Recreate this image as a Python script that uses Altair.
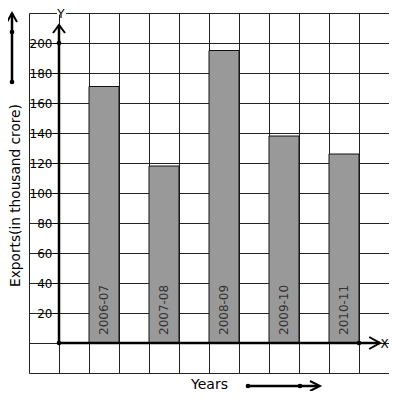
import altair as alt
import pandas as pd

years = ["2006-07", "2007-08", "2008-09", "2009-10", "2010-11"]
exports = [171, 118, 195, 138, 126]
y_ticks = [20, 40, 60, 80, 100, 120, 140, 160, 180, 200]
grid_y = list(range(-20, 221, 20))
grid_x = list(range(-1, 12))

df = pd.DataFrame({"year": years, "exports": exports})
df["x0"] = [2 * i + 1 for i in range(len(years))]
df["x1"] = df["x0"] + 1
df["xm"] = df["x0"] + 0.5

FONT = "DejaVu Sans"
XS = alt.Scale(domain=[-1, 11], nice=False, zero=False, padding=0)
YS = alt.Scale(domain=[-20, 220], nice=False, zero=False, padding=0)
one = alt.Data(values=[{}])


def XD(v):
    return alt.XDatum(v, axis=None)


def YD(v):
    return alt.YDatum(v, axis=None)


bars = alt.Chart(df).mark_bar(color="#999999", stroke="#111111", strokeWidth=1).encode(
    x=alt.X("x0:Q", scale=XS, axis=alt.Axis(
        values=grid_x, grid=True, gridColor="#222222", gridWidth=1, gridOpacity=1,
        labels=False, ticks=False, domain=False,
        title="Years", titleFont=FONT, titleFontSize=14, titleFontWeight="normal",
        titleColor="#000000", titleY=11.5, titleBaseline="middle")),
    x2="x1:Q",
    y=alt.Y("exports:Q", scale=YS, axis=alt.Axis(
        orient="right", values=grid_y, grid=True, gridColor="#222222", gridWidth=1,
        gridOpacity=1, labels=False, ticks=False, domain=False, title=None)),
    y2=alt.Y2Datum(0),
)

labels = alt.Chart(df).mark_text(angle=270, align="left", baseline="middle", dx=8,
                                 fontSize=12, font=FONT, color="#333333").encode(
    x=alt.X("xm:Q", scale=XS, axis=None),
    y=YD(0),
    text="year:N",
)

dots_df = pd.DataFrame({"x": [0, 0, 10], "y": [0, 200, 0]})
dots = alt.Chart(dots_df).mark_circle(size=22, color="black", opacity=1).encode(
    x=alt.X("x:Q", scale=XS, axis=None),
    y=alt.Y("y:Q", scale=YS, axis=alt.Axis(
        orient="left", offset=-30, values=y_ticks, grid=False, domain=False,
        ticks=True, tickSize=6, tickColor="#000000", tickWidth=1,
        labelPadding=1, labelFont=FONT, labelFontSize=12, labelColor="#000000",
        title="Exports(in thousand crore)", titleFont=FONT, titleFontSize=13.7,
        titleFontWeight="normal", titleColor="#000000", titleX=-44, titleY=182,
        titleAngle=270, titleBaseline="middle", titleAlign="center")),
)

yaxis_line = alt.Chart(one).mark_rule(color="black", strokeWidth=2.5).encode(
    x=XD(0), y=YD(0), y2=alt.Y2Datum(212))
xaxis_line = alt.Chart(one).mark_rule(color="black", strokeWidth=2.5).encode(
    x=XD(0), x2=alt.X2Datum(10.7), y=YD(0))

y_head = alt.Chart(one).mark_point(shape="M-1,1.33L0,0L1,1.33", size=144, filled=False,
                                   color="black", strokeWidth=2, opacity=1).encode(
    x=XD(0), y=YD(212))
x_head = alt.Chart(one).mark_point(shape="M-1.8,-1L0,0L-1.8,1", size=144, filled=False,
                                   color="black", strokeWidth=2, opacity=1).encode(
    x=XD(10.7), y=YD(0))

# white gap in the top grid line behind the "Y" label
y_gap = alt.Chart(one).mark_rule(color="white", strokeWidth=3).encode(
    x=alt.value(28), x2=alt.value(37), y=alt.value(0))
y_letter = alt.Chart(one).mark_text(text="Y", font=FONT, fontSize=12, color="black",
                                    baseline="middle").encode(x=alt.value(32), y=alt.value(0.5))
x_letter = alt.Chart(one).mark_text(text="X", font=FONT, fontSize=12, color="black",
                                    baseline="middle").encode(x=alt.value(355.5), y=alt.value(331))

# left upward arrow decoration
left_line = alt.Chart(one).mark_rule(color="black", strokeWidth=2.5).encode(
    x=alt.value(-17), y=alt.value(0), y2=alt.value(69))
left_head = alt.Chart(one).mark_point(shape="M-1,1.8L0,0L1,1.8", size=100, filled=False,
                                      color="black", strokeWidth=2, opacity=1).encode(
    x=alt.value(-17), y=alt.value(0))
left_dots = alt.Chart(pd.DataFrame({"py": [19, 69]})).mark_circle(size=22, color="black", opacity=1).encode(
    x=alt.value(-17), y=alt.Y("py:Q", scale=None, axis=None))

# bottom rightward arrow decoration
bot_line = alt.Chart(one).mark_rule(color="black", strokeWidth=2.5).encode(
    x=alt.value(219), x2=alt.value(289), y=alt.value(373))
bot_head = alt.Chart(one).mark_point(shape="M-2,-1L0,0L-2,1", size=100, filled=False,
                                     color="black", strokeWidth=2, opacity=1).encode(
    x=alt.value(291), y=alt.value(373))
bot_dots = alt.Chart(pd.DataFrame({"px": [219, 271]})).mark_circle(size=22, color="black", opacity=1).encode(
    x=alt.X("px:Q", scale=None, axis=None), y=alt.value(373))

chart = alt.layer(
    bars, labels, yaxis_line, xaxis_line, y_head, x_head, dots,
    y_gap, y_letter, x_letter, left_line, left_head, left_dots, bot_line, bot_head, bot_dots,
).resolve_axis(x="independent", y="independent").properties(
    width=360, height=360,
    autosize=alt.AutoSizeParams(type="none"),
    padding={"left": 21, "top": 5, "right": 0, "bottom": 18},
).configure_view(stroke=None)

chart.save("out.html", embed_options={"renderer": "svg", "actions": False})
